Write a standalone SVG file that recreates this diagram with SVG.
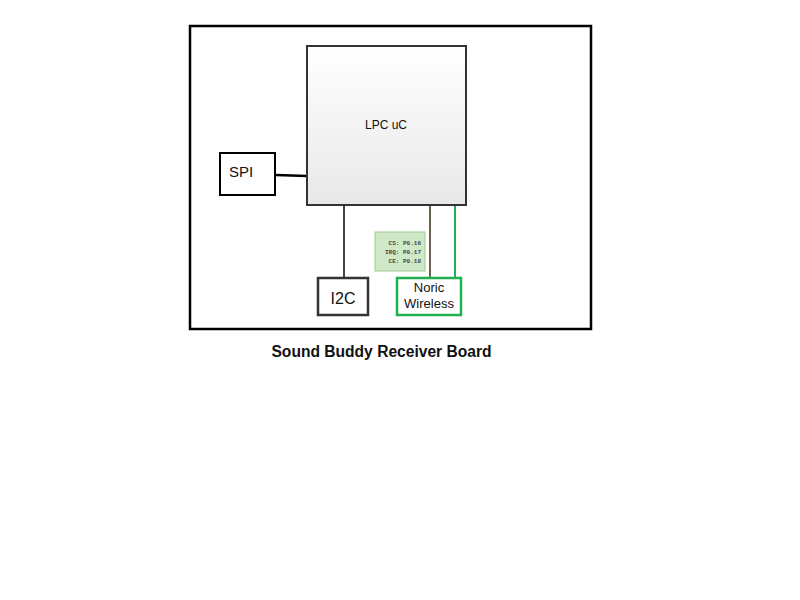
<svg xmlns="http://www.w3.org/2000/svg" width="800" height="600" viewBox="0 0 800 600">
<defs>
<linearGradient id="g" x1="0" y1="0" x2="0" y2="1"><stop offset="0" stop-color="#ffffff"/><stop offset="1" stop-color="#e8e8e8"/></linearGradient>
<style>
.t{font-family:"Liberation Sans",Arial,sans-serif;fill:#111}
.m{font-family:"Liberation Mono","Courier New",monospace;font-size:6px;font-weight:bold;fill:#444}
</style>
</defs>
<rect width="800" height="600" fill="#fff"/>
<rect x="190" y="26" width="401" height="303" fill="#fff" stroke="#000" stroke-width="2.5"/>
<g id="connectors" fill="none">
<line x1="276" y1="175" x2="307" y2="176" stroke="#000" stroke-width="2.5"/>
<line x1="344" y1="206" x2="344" y2="277" stroke="#444" stroke-width="2"/>
<line x1="430" y1="206" x2="430" y2="277" stroke="#6b6350" stroke-width="2"/>
<line x1="455" y1="206" x2="455" y2="277" stroke="#20b050" stroke-width="2"/>
</g>
<g id="lpc">
<rect x="307" y="46" width="159" height="159" fill="url(#g)" stroke="#333" stroke-width="2"/>
<text class="t" x="386" y="129" font-size="12" text-anchor="middle">LPC uC</text>
</g>
<g id="spi">
<rect x="220" y="153" width="55" height="42" fill="#fff" stroke="#000" stroke-width="2"/>
<text class="t" x="241" y="177" font-size="15" text-anchor="middle">SPI</text>
</g>
<g id="i2c">
<rect x="318" y="278" width="50" height="37" fill="#fff" stroke="#333" stroke-width="2.5"/>
<text class="t" x="343" y="304" font-size="16" text-anchor="middle">I2C</text>
</g>
<g id="noric">
<rect x="397" y="278" width="64" height="37" fill="#fff" stroke="#1fb050" stroke-width="2.5"/>
<text class="t" x="429" y="292" font-size="13" text-anchor="middle" fill="#333">Noric</text>
<text class="t" x="429" y="308" font-size="13" text-anchor="middle" fill="#333">Wireless</text>
</g>
<g id="pins">
<rect x="375" y="232" width="50" height="39" fill="#cfe8c8" stroke="#9ccc90"/>
<text class="m" x="421" y="245" text-anchor="end">CS: P0.16</text>
<text class="m" x="421" y="254" text-anchor="end">IRQ: P0.17</text>
<text class="m" x="421" y="263" text-anchor="end">CE: P0.18</text>
</g>
<text class="t" x="381.5" y="357" font-size="15.6" font-weight="bold" text-anchor="middle">Sound Buddy Receiver Board</text>
</svg>
